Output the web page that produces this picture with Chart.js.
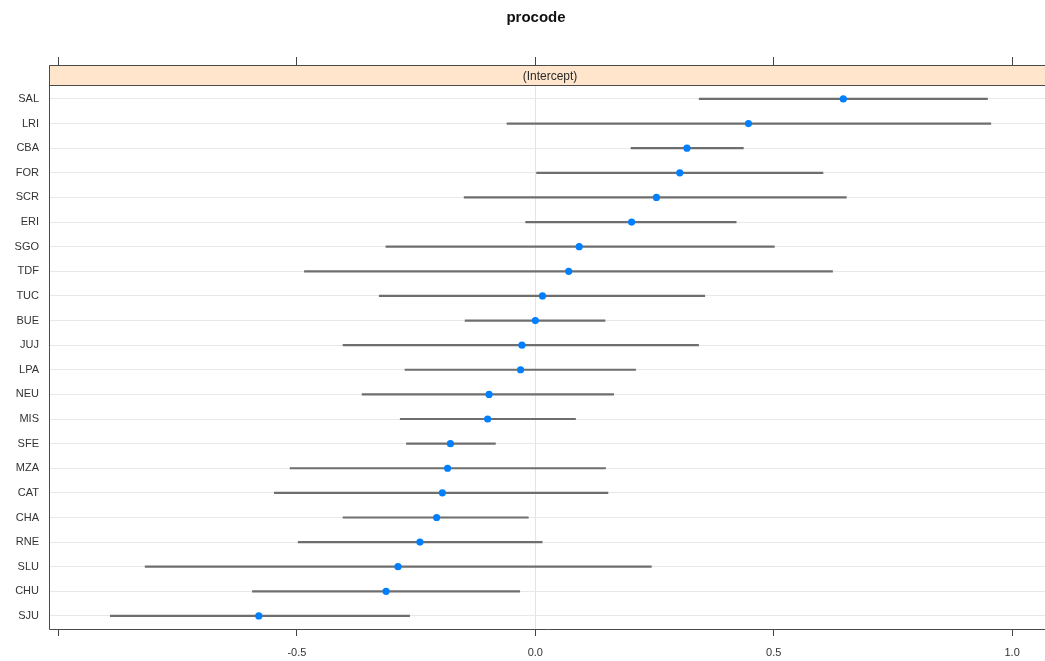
<!DOCTYPE html>
<html>
<head>
<meta charset="utf-8">
<script src="https://cdn.jsdelivr.net/npm/chart.js@4.4.1/dist/chart.umd.min.js"></script>
<style>
html,body{margin:0;padding:0;background:#fff;}
#wrap{width:1045px;height:661px;position:relative;}
</style>
</head>
<body>
<div id="wrap"><canvas id="c"></canvas></div>
<script>
const titleText = "procode";
const stripText = "(Intercept)";
const categories = ["SAL","LRI","CBA","FOR","SCR","ERI","SGO","TDF","TUC","BUE","JUJ","LPA","NEU","MIS","SFE","MZA","CAT","CHA","RNE","SLU","CHU","SJU"];
const estimates = [0.646,0.447,0.318,0.303,0.254,0.202,0.092,0.070,0.015,0.000,-0.028,-0.031,-0.097,-0.100,-0.178,-0.184,-0.195,-0.207,-0.242,-0.288,-0.313,-0.580];
const lower = [0.343,-0.060,0.200,0.002,-0.150,-0.021,-0.314,-0.485,-0.328,-0.148,-0.404,-0.274,-0.364,-0.284,-0.271,-0.515,-0.548,-0.404,-0.498,-0.819,-0.594,-0.892];
const upper = [0.949,0.956,0.437,0.604,0.653,0.422,0.502,0.624,0.356,0.147,0.343,0.211,0.165,0.085,-0.083,0.148,0.153,-0.014,0.015,0.244,-0.032,-0.263];
const tickValues = [-1.0,-0.5,0.0,0.5,1.0];
const tickLabels = ["","-0.5","0.0","0.5","1.0"];
const xMin = -1.020, xMax = 1.069;

const FONT = '"Liberation Sans", Arial, sans-serif';

const intervalSets = categories.map((c,i)=>({
  label: c,
  data: [{x: lower[i], y: i}, {x: upper[i], y: i}],
  showLine: true,
  borderColor: '#6e6e6e',
  borderWidth: 2.2,
  pointRadius: 0,
  order: 2
}));
const pointSet = {
  label: 'estimate',
  data: categories.map((c,i)=>({x: estimates[i], y: i})),
  pointRadius: 3.6,
  pointBackgroundColor: '#0080ff',
  pointBorderWidth: 0,
  showLine: false,
  order: 1
};

const stripPlugin = {
  id: 'strip',
  beforeDatasetsDraw(chart) {
    const {ctx, chartArea: a, scales} = chart;
    const yb = Math.round(scales.y.getPixelForValue(-0.57)) + 0.5;
    ctx.save();
    ctx.fillStyle = '#ffe5cc';
    ctx.fillRect(a.left, a.top, a.right - a.left, yb - a.top);
    ctx.strokeStyle = '#4a4a4a';
    ctx.lineWidth = 1;
    ctx.beginPath();
    ctx.moveTo(a.left, yb); ctx.lineTo(a.right, yb);
    ctx.stroke();
    ctx.fillStyle = '#2a2a2a';
    ctx.font = '12px ' + FONT;
    ctx.textAlign = 'center';
    ctx.textBaseline = 'middle';
    ctx.fillText(stripText, 550, (a.top + yb) / 2 + 1);
    ctx.restore();
  },
  afterDatasetsDraw(chart) {
    const {ctx, chartArea: a} = chart;
    ctx.save();
    ctx.strokeStyle = '#4a4a4a';
    ctx.lineWidth = 1;
    const l = Math.round(a.left) + 0.5, t = Math.round(a.top) + 0.5, b = Math.round(a.bottom) + 0.5;
    ctx.beginPath();
    ctx.moveTo(a.right, t); ctx.lineTo(l, t); ctx.lineTo(l, b); ctx.lineTo(a.right, b);
    ctx.stroke();
    // title
    ctx.fillStyle = '#111';
    ctx.font = 'bold 15px ' + FONT;
    ctx.textAlign = 'center';
    ctx.textBaseline = 'middle';
    ctx.fillText(titleText, 536, 18);
    ctx.restore();
  }
};

new Chart(document.getElementById('c'), {
  type: 'scatter',
  data: { datasets: [pointSet, ...intervalSets] },
  plugins: [stripPlugin],
  options: {
    responsive: true,
    maintainAspectRatio: false,
    animation: false,
    layout: { autoPadding: false, padding: { left: 0, right: 0, top: 57, bottom: 0 } },
    plugins: {
      legend: { display: false },
      tooltip: { enabled: false },
      title: { display: false }
    },
    scales: {
      x: {
        type: 'linear',
        position: 'bottom',
        min: xMin, max: xMax,
        afterBuildTicks: s => { s.ticks = tickValues.map(v => ({value: v})); },
        afterFit: s => { s.height = 32; },
        ticks: {
          color: '#333',
          font: { family: FONT, size: 11 },
          padding: 10,
          maxRotation: 0,
          autoSkip: false,
          callback: (v) => { const k = tickValues.indexOf(v); return k >= 0 ? tickLabels[k] : ''; }
        },
        grid: {
          color: ctx => (ctx.tick && ctx.tick.value === 0) ? '#e4e4e4' : 'rgba(0,0,0,0)',
          tickColor: '#444',
          tickLength: 7,
          lineWidth: 1
        },
        border: { display: false }
      },
      x2: {
        type: 'linear',
        position: 'top',
        min: xMin, max: xMax,
        afterBuildTicks: s => { s.ticks = tickValues.map(v => ({value: v})); },
        afterFit: s => { s.height = 8; },
        ticks: { display: false },
        grid: { drawOnChartArea: false, tickColor: '#444', tickLength: 8, color: '#444' },
        border: { display: false }
      },
      y: {
        type: 'linear',
        reverse: true,
        min: -1.38, max: 21.53,
        afterBuildTicks: s => { s.ticks = categories.map((c,i) => ({value: i})); },
        afterFit: s => { s.width = 49; },
        ticks: {
          color: '#333',
          font: { family: FONT, size: 11 },
          padding: 10,
          autoSkip: false,
          callback: (v) => categories[v] !== undefined ? categories[v] : ''
        },
        grid: { color: '#e8e8e8', drawTicks: false, lineWidth: 1 },
        border: { display: false }
      }
    }
  }
});
</script>
</body>
</html>
